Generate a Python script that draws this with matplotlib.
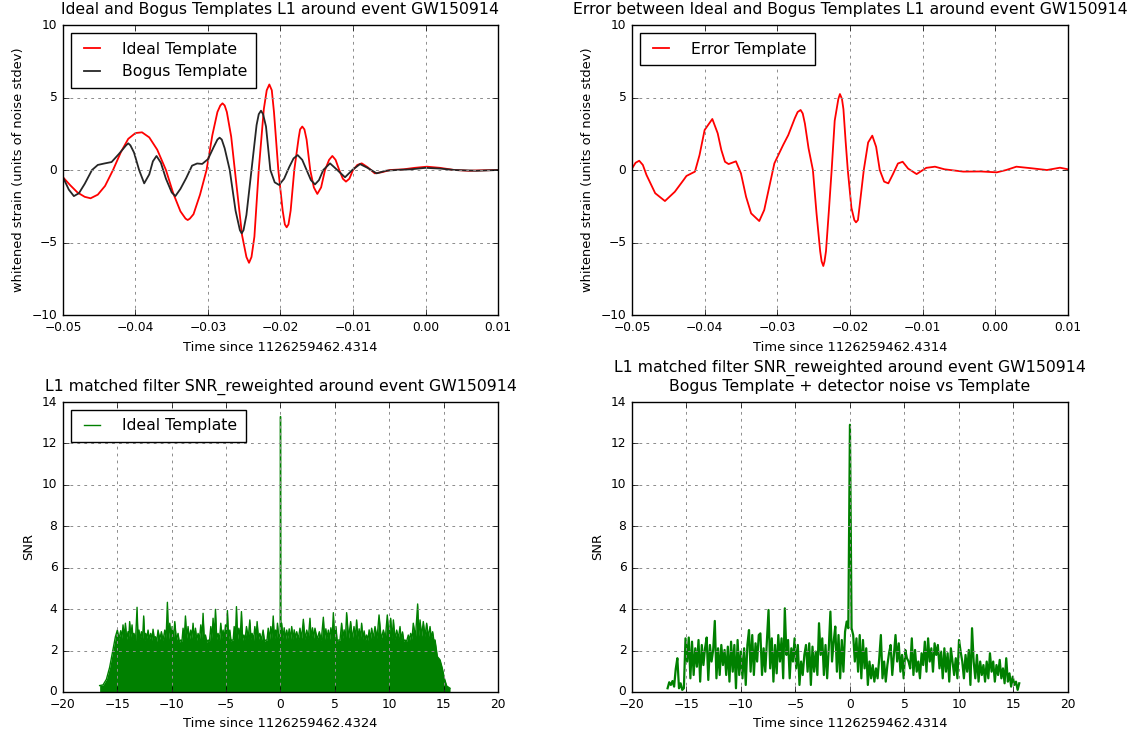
import numpy as np
import matplotlib
matplotlib.use('Agg')
import matplotlib.pyplot as plt

plt.style.use('classic')

# whitened templates around GW150914 (L1)
tmpl_time = [-0.0500, -0.0490, -0.0480, -0.0470, -0.0462, -0.0452, -0.0442, -0.0431,
             -0.0420, -0.0410, -0.0400, -0.0391, -0.0381, -0.0370, -0.0358, -0.0348,
             -0.0338, -0.0331, -0.0328, -0.0325, -0.0320, -0.0311, -0.0302, -0.0294,
             -0.0287, -0.0283, -0.0280, -0.0277, -0.0274, -0.0268, -0.0263, -0.0253,
             -0.0247, -0.02434, -0.0240, -0.0236, -0.0230, -0.0223, -0.0219, -0.02154,
             -0.0212, -0.0209, -0.0203, -0.0197, -0.0194, -0.01915, -0.0189, -0.0186,
             -0.0181, -0.0175, -0.0173, -0.0170, -0.0167, -0.0164, -0.0159, -0.0154,
             -0.01492, -0.0144, -0.01386, -0.0133, -0.01285, -0.0124, -0.0119, -0.0114,
             -0.01097, -0.0105, -0.0100, -0.0094, -0.0088, -0.0080, -0.0070, -0.0060,
             -0.0049, -0.0030, -0.0015, 0.0002, 0.0020, 0.0040, 0.0060, 0.0080, 0.0100]
ideal = [-0.50, -1.05, -1.55, -1.85, -1.95, -1.70, -1.10, 0.00,
         1.25, 2.15, 2.55, 2.60, 2.25, 1.40, 0.00, -1.60,
         -2.85, -3.35, -3.45, -3.35, -3.05, -1.70, 0.00, 2.40,
         4.00, 4.45, 4.60, 4.45, 4.00, 2.30, 0.00, -4.50,
         -6.00, -6.40, -6.00, -4.60, 0.00, 4.20, 5.50, 5.90,
         5.50, 4.00, 0.00, -2.80, -3.75, -3.95, -3.75, -2.80,
         0.00, 2.20, 2.80, 3.00, 2.80, 2.10, 0.00, -1.20,
         -1.65, -1.20, 0.00, 0.70, 0.97, 0.70, 0.00, -0.60,
         -0.80, -0.60, 0.00, 0.35, 0.46, 0.20, -0.23, -0.15,
         0.00, 0.05, 0.15, 0.23, 0.15, 0.00, -0.05, -0.02, 0.00]

bogus_time = [-0.0500, -0.0492, -0.0485, -0.0478, -0.0470, -0.0460, -0.0452, -0.0443,
              -0.0433, -0.0423, -0.0413, -0.0410, -0.0407, -0.0402, -0.0395, -0.0388,
              -0.0381, -0.0376, -0.0371, -0.0365, -0.0358, -0.0350, -0.0345, -0.0338,
              -0.0330, -0.0322, -0.0315, -0.0308, -0.0300, -0.0292, -0.0287, -0.0284,
              -0.0281, -0.0277, -0.0270, -0.0262, -0.0256, -0.02536, -0.0251, -0.0247,
              -0.0240, -0.0233, -0.0230, -0.02269, -0.0224, -0.0220, -0.0214, -0.0208,
              -0.0202, -0.0195, -0.0188, -0.0182, -0.01763, -0.0170, -0.0164, -0.0158,
              -0.01524, -0.0147, -0.0141, -0.01317, -0.0126, -0.01110, -0.0101, -0.00903,
              -0.0080, -0.00674, -0.0055, -0.0040, -0.0020, 0.0000, 0.0020, 0.0040,
              0.0070, 0.0100]
bogus = [-0.50, -1.35, -1.80, -1.60, -0.95, 0.00, 0.35, 0.45,
         0.55, 1.10, 1.70, 1.84, 1.70, 1.20, 0.00, -0.92,
         -0.30, 0.60, 0.97, 0.50, -0.60, -1.55, -1.80, -1.30,
         -0.55, 0.30, 0.45, 0.42, 0.75, 1.60, 2.10, 2.23,
         2.10, 1.50, 0.00, -2.80, -4.15, -4.37, -4.15, -3.10,
         0.00, 3.10, 3.85, 4.09, 3.85, 3.00, 0.00, -0.85,
         -1.03, -0.60, 0.20, 0.80, 1.03, 0.70, 0.00, -0.70,
         -0.99, -0.70, 0.00, 0.46, 0.20, -0.50, 0.00, 0.41,
         0.15, -0.23, -0.05, 0.00, 0.05, 0.15, 0.10, 0.00,
         -0.05, 0.00]

error_time = [-0.0500, -0.0495, -0.0490, -0.0485, -0.0480, -0.0468, -0.04546, -0.0441,
              -0.0429, -0.0425, -0.04133, -0.0407, -0.0400, -0.03894, -0.0382, -0.0377,
              -0.0372, -0.0367, -0.03569, -0.0350, -0.0343, -0.0336, -0.03248, -0.0318,
              -0.0311, -0.0304, -0.02986, -0.0292, -0.02849, -0.0276, -0.0272, -0.02679,
              -0.0265, -0.0262, -0.0257, -0.0251, -0.0246, -0.0241, -0.0239, -0.02367,
              -0.0235, -0.0233, -0.0229, -0.02252, -0.0221, -0.0216, -0.02138, -0.0211,
              -0.0209, -0.0206, -0.0203, -0.0198, -0.0194, -0.01917, -0.0189, -0.0187,
              -0.0181, -0.0175, -0.01693, -0.0164, -0.0159, -0.0153, -0.01472, -0.0141,
              -0.0134, -0.01275, -0.0120, -0.01083, -0.0095, -0.0083, -0.0070, -0.0044,
              -0.0020, 0.0002, 0.0015, 0.0029, 0.0050, 0.0071, 0.0089, 0.0100]
error = [0.10, 0.50, 0.64, 0.35, -0.34, -1.60, -2.14, -1.50,
         -0.69, -0.41, -0.11, 1.03, 2.76, 3.52, 2.53, 1.38,
         0.57, 0.41, 0.60, -0.23, -1.84, -2.99, -3.52, -2.76,
         -1.15, 0.46, 1.03, 1.72, 2.41, 3.56, 4.00, 4.14,
         3.90, 3.20, 1.50, 0.00, -3.00, -5.60, -6.30, -6.62,
         -6.30, -5.60, -2.80, 0.00, 3.40, 4.90, 5.24, 4.90,
         4.20, 2.00, 0.00, -2.60, -3.45, -3.61, -3.45, -2.60,
         0.00, 1.90, 2.37, 1.60, 0.00, -0.80, -0.92, -0.30,
         0.45, 0.57, 0.10, -0.28, 0.15, 0.23, 0.05, -0.11,
         -0.10, -0.16, 0.00, 0.23, 0.12, 0.00, 0.16, 0.05]

# matched filter SNR, ideal template (top edge of the dense trace)
snr_ideal_time = [
    -16.63, -16.32, -16.01, -15.71, -15.40, -15.18, -15.00, -14.85, -14.69, -14.58,
    -14.48, -14.37, -14.26, -14.14, -14.02, -13.95, -13.87, -13.76, -13.65, -13.56,
    -13.47, -13.33, -13.19, -13.10, -13.01, -12.90, -12.79, -12.68, -12.58, -12.48,
    -12.39, -12.28, -12.18, -12.05, -11.93, -11.82, -11.72, -11.61, -11.50, -11.38,
    -11.26, -11.10, -10.95, -10.80, -10.64, -10.52, -10.40, -10.29, -10.18, -10.07,
    -9.97, -9.85, -9.72, -9.57, -9.42, -9.30, -9.17, -9.06, -8.96, -8.85,
    -8.74, -8.62, -8.50, -8.37, -8.25, -8.15, -8.04, -7.93, -7.82, -7.70,
    -7.58, -7.45, -7.33, -7.22, -7.12, -7.01, -6.90, -6.78, -6.66, -6.53,
    -6.41, -6.30, -6.20, -6.09, -5.98, -5.86, -5.74, -5.61, -5.49, -5.38,
    -5.28, -5.17, -5.06, -4.97, -4.88, -4.77, -4.66, -4.55, -4.45, -4.35,
    -4.26, -4.15, -4.05, -3.94, -3.83, -3.71, -3.59, -3.48, -3.37, -3.25,
    -3.13, -2.97, -2.82, -2.71, -2.61, -2.48, -2.36, -2.25, -2.15, -2.02,
    -1.90, -1.75, -1.60, -1.47, -1.35, -1.24, -1.13, -1.01, -0.89, -0.78,
    -0.67, -0.56, -0.46, -0.37, -0.28, -0.15, -0.03, 0.00, 0.03, 0.11,
    0.22, 0.34, 0.46, 0.57, 0.68, 0.80, 0.92, 1.03, 1.15, 1.26,
    1.38, 1.49, 1.64, 1.79, 1.95, 2.10, 2.25, 2.41, 2.56, 2.71,
    2.82, 2.94, 3.05, 3.17, 3.37, 3.57, 3.75, 3.94, 4.06, 4.17,
    4.28, 4.40, 4.52, 4.63, 4.75, 4.86, 4.98, 5.10, 5.21, 5.32,
    5.47, 5.62, 5.74, 5.85, 5.97, 6.08, 6.26, 6.45, 6.60, 6.76,
    6.88, 7.00, 7.12, 7.23, 7.35, 7.46, 7.58, 7.69, 7.81, 7.92,
    8.04, 8.15, 8.27, 8.38, 8.53, 8.69, 8.88, 9.06, 9.26, 9.46,
    9.64, 9.82, 9.98, 10.13, 10.26, 10.38, 10.53, 10.68, 10.84, 10.99,
    11.10, 11.22, 11.34, 11.45, 11.60, 11.75, 11.86, 11.97, 12.09, 12.21,
    12.41, 12.61, 12.72, 12.83, 12.98, 13.13, 13.29, 13.44, 13.60, 13.75,
    13.87, 13.99, 14.10, 14.21, 14.42, 14.67, 14.88, 15.07, 15.28, 15.59]
snr_ideal = [
    0.31, 0.34, 0.61, 1.19, 2.06, 2.67, 2.99, 2.55, 2.96, 2.60,
    3.24, 2.65, 3.32, 2.55, 2.91, 2.60, 3.40, 2.65, 3.24, 2.55,
    2.83, 2.50, 4.09, 2.60, 2.99, 2.55, 2.91, 2.60, 3.67, 2.50,
    2.83, 2.60, 2.99, 2.55, 2.83, 2.50, 3.03, 2.60, 2.67, 2.45,
    2.99, 2.55, 2.91, 2.50, 2.99, 2.60, 4.33, 2.55, 3.32, 2.60,
    3.16, 2.55, 3.40, 2.50, 2.83, 2.40, 2.51, 2.45, 3.08, 2.55,
    3.67, 2.60, 3.16, 2.55, 2.99, 2.60, 3.32, 2.55, 3.08, 2.50,
    2.83, 2.55, 3.24, 2.60, 3.80, 2.55, 2.75, 2.40, 2.51, 2.45,
    3.16, 2.60, 3.56, 2.65, 3.99, 2.55, 2.83, 2.50, 3.32, 2.60,
    2.99, 2.55, 3.24, 2.60, 3.93, 2.55, 2.99, 2.45, 2.51, 2.50,
    3.16, 2.60, 4.12, 2.55, 3.08, 2.60, 3.88, 2.50, 2.75, 2.55,
    3.16, 2.60, 3.48, 2.55, 2.83, 2.50, 3.16, 2.60, 3.40, 2.55,
    2.83, 2.50, 2.99, 2.45, 2.51, 2.50, 3.08, 2.55, 3.16, 2.60,
    3.67, 2.55, 2.99, 2.60, 3.32, 2.60, 2.80, 13.30, 2.90, 3.32,
    2.60, 3.10, 2.55, 2.99, 2.60, 3.05, 2.55, 3.16, 2.55, 3.00,
    2.60, 2.91, 2.55, 3.08, 2.60, 3.51, 2.55, 2.99, 2.60, 3.56,
    2.55, 3.10, 2.60, 3.08, 2.55, 2.91, 2.50, 3.61, 2.55, 3.05,
    2.60, 2.99, 2.55, 3.10, 2.60, 3.83, 2.55, 3.16, 2.45, 2.51,
    2.50, 3.32, 2.60, 3.00, 2.55, 3.83, 2.60, 3.40, 2.55, 3.16,
    2.60, 3.48, 2.55, 3.05, 2.60, 3.32, 2.55, 2.95, 2.50, 2.75,
    2.50, 3.00, 2.55, 3.08, 2.60, 3.16, 2.60, 3.72, 2.55, 2.99,
    2.60, 3.72, 2.65, 3.56, 2.60, 3.48, 2.55, 2.99, 2.60, 3.16,
    2.50, 2.90, 2.45, 2.51, 2.45, 2.75, 2.50, 2.83, 2.55, 3.32,
    2.65, 4.25, 2.70, 3.48, 2.70, 3.40, 2.70, 3.32, 2.65, 3.16,
    2.60, 2.91, 2.50, 2.51, 1.71, 1.55, 1.14, 0.66, 0.29, 0.18]

# matched filter SNR, bogus template + detector noise (uniformly sampled)
snr_bogus_t0 = -16.73
snr_bogus_t1 = 15.53
snr_bogus = [
    0.18, 0.47, 0.34, 0.53, 0.26, 1.11, 1.63, 0.18, 0.42, 0.10, 0.18, 2.59, 1.47, 2.63,
    0.66, 2.43, 0.82, 2.11, 1.22, 2.51, 0.50, 2.27, 1.30, 2.11, 2.63, 0.58, 2.27, 1.47,
    2.03, 3.43, 0.66, 2.11, 0.82, 2.27, 1.30, 2.03, 0.82, 2.19, 0.50, 2.43, 0.98, 2.27,
    0.18, 2.51, 0.82, 1.95, 0.66, 2.11, 0.34, 2.27, 2.99, 0.98, 2.75, 0.82, 2.35, 1.47,
    2.75, 2.83, 0.82, 2.11, 0.98, 2.43, 3.96, 1.14, 2.59, 0.50, 2.27, 0.90, 2.75, 1.47,
    2.59, 0.66, 4.04, 1.79, 2.51, 0.66, 2.11, 1.47, 2.59, 1.14, 2.27, 0.34, 1.47, 0.82,
    1.79, 2.27, 0.98, 2.35, 0.34, 2.19, 0.98, 1.95, 0.82, 3.32, 1.79, 2.59, 0.82, 2.27,
    0.66, 2.11, 3.88, 1.47, 2.43, 3.16, 0.98, 2.75, 0.66, 2.51, 0.98, 2.91,
    3.40, 3.08, 12.90, 3.08, 2.75, 1.47, 2.59, 0.98, 2.75, 0.66, 2.51, 1.14, 2.11, 0.34,
    1.47, 0.66, 1.30, 0.50, 1.14, 0.66, 1.63, 2.75, 0.66, 1.47, 0.50, 1.30, 1.87, 2.27,
    0.82, 1.79, 2.75, 1.47, 2.35, 0.98, 1.79, 0.66, 2.03, 1.63, 1.47, 1.14, 2.59, 0.82,
    2.03, 0.98, 1.47, 0.66, 1.87, 1.30, 2.43, 0.98, 2.59, 1.47, 2.11, 0.98, 2.35, 1.79,
    2.27, 1.14, 1.95, 0.66, 2.11, 0.98, 1.87, 0.50, 2.11, 1.47, 0.82, 1.63, 0.66, 2.51,
    1.95, 1.47, 0.66, 1.79, 0.98, 2.03, 0.34, 3.08, 1.47, 0.66, 1.79, 0.50, 1.47, 0.82,
    1.30, 0.50, 1.47, 0.66, 1.87, 0.98, 1.47, 0.50, 1.30, 0.82, 1.55, 0.66, 1.14, 0.42,
    1.63, 0.50, 0.90, 0.26, 0.74, 0.34, 0.50, 0.10, 0.42]
snr_bogus_time = np.linspace(snr_bogus_t0, snr_bogus_t1, len(snr_bogus))

title_fs = 11.3
label_fs = 9.4
tick_fs = 8.8
legend_fs = 11.3
title_pad = 8

fig = plt.figure(figsize=(11.37, 7.36), dpi=100, facecolor='white')
ax1 = fig.add_axes([0.0554, 0.572, 0.3826, 0.394])
ax2 = fig.add_axes([0.5558, 0.572, 0.3835, 0.394])
ax3 = fig.add_axes([0.0554, 0.0598, 0.3826, 0.394])
ax4 = fig.add_axes([0.5558, 0.0598, 0.3835, 0.394])

ax1.plot(tmpl_time, ideal, 'r', lw=1.3, label='Ideal Template')
ax1.plot(bogus_time, bogus, color='0.15', lw=1.3, label='Bogus Template')
ax1.set_title('Ideal and Bogus Templates L1 around event GW150914',
              fontsize=title_fs, pad=title_pad)

ax2.plot(error_time, error, 'r', lw=1.3, label='Error Template')
ax2.set_title('Error between Ideal and Bogus Templates L1 around event GW150914',
              fontsize=title_fs, pad=title_pad)

for ax in (ax1, ax2):
    ax.set_xlim(-0.05, 0.01)
    ax.set_ylim(-10, 10)
    ax.set_xlabel('Time since 1126259462.4314', fontsize=label_fs)
    ax.set_ylabel('whitened strain (units of noise stdev)', fontsize=label_fs)

ax3.fill_between(snr_ideal_time, 0, snr_ideal, color='g', lw=0)
ax3.plot(snr_ideal_time, snr_ideal, 'g', lw=1.0, label='Ideal Template')
ax3.set_title('L1 matched filter SNR_reweighted around event GW150914',
              fontsize=title_fs, pad=title_pad)
ax3.set_xlabel('Time since 1126259462.4324', fontsize=label_fs)

ax4.plot(snr_bogus_time, snr_bogus, 'g', lw=1.6)
ax4.set_title('L1 matched filter SNR_reweighted around event GW150914\n'
              'Bogus Template + detector noise vs Template',
              fontsize=title_fs, pad=title_pad)
ax4.set_xlabel('Time since 1126259462.4314', fontsize=label_fs)

for ax in (ax3, ax4):
    ax.set_xlim(-20, 20)
    ax.set_ylim(0, 14)
    ax.set_ylabel('SNR', fontsize=label_fs)

for ax in (ax1, ax2, ax3, ax4):
    ax.grid(True, color='0.55', linestyle=(0, (2, 3)), linewidth=0.7)
    ax.tick_params(labelsize=tick_fs)
    for spine in ax.spines.values():
        spine.set_zorder(5)

for ax in (ax1, ax2, ax3):
    ax.legend(loc='upper left', fontsize=legend_fs, handlelength=1.6,
              handletextpad=1.1, borderpad=0.55)

fig.savefig('out.png', dpi=100, facecolor='white')
